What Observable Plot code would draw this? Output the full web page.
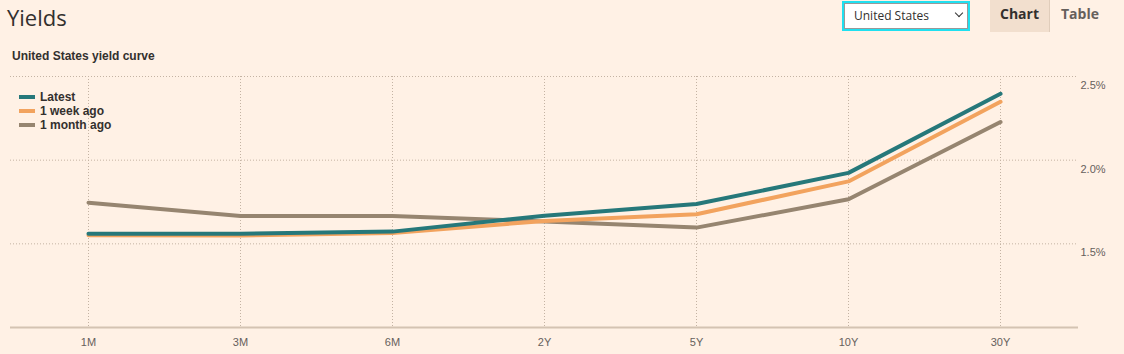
<!DOCTYPE html>
<html>
<head>
<meta charset="utf-8">
<script src="https://cdn.jsdelivr.net/npm/d3@7"></script>
<script src="https://cdn.jsdelivr.net/npm/@observablehq/plot@0.6"></script>
<style>
  html, body { margin: 0; padding: 0; background: #fff1e5; width: 1124px; height: 354px; overflow: hidden; }
  body { position: relative; font-family: "Liberation Sans", Arial, sans-serif; color: #33302e; }
  #title { position: absolute; left: 7px; top: 2px; font-family: "Open Sans", sans-serif; font-size: 22px; font-weight: 400; color: #33302e; }
  #subtitle { position: absolute; left: 12px; top: 49px; font-size: 12px; font-weight: bold; color: #33302e; }
  #select { position: absolute; left: 842px; top: 1px; width: 124px; height: 26px; border: 2px solid #1fe0f0; box-sizing: content-box; }
  #select .inner { position: absolute; left: 0; top: 0; right: 0; bottom: 0; border: 1px solid #999; background: #fff; font-family: "Open Sans", sans-serif; font-size: 12px; color: #33302e; line-height: 24px; padding-left: 9px; }
  #select .chev { position: absolute; right: 6px; top: 7px; width: 5px; height: 5px; border-right: 1.5px solid #333; border-bottom: 1.5px solid #333; transform: rotate(45deg); }
  #tab-chart { position: absolute; left: 990px; top: 0; width: 59px; height: 32px; background: #f2dfce; border-right: 1px solid #e0cdbb; font-size: 14px; font-weight: bold; color: #33302e; line-height: 28px; text-align: center; font-family: "Open Sans", sans-serif; }
  #tab-table { position: absolute; left: 1061px; top: 0; height: 32px; font-size: 14px; font-weight: bold; color: #66605c; line-height: 28px; font-family: "Open Sans", sans-serif; }
  #chart { position: absolute; left: 0; top: 66px; }
  #legend { position: absolute; left: 19px; top: 90px; font-size: 12px; font-weight: bold; color: #33302e; }
  #legend .row { height: 14px; line-height: 14px; display: flex; align-items: center; }
  #legend .sw { width: 16px; height: 4px; margin-right: 5px; }
</style>
</head>
<body>
<div id="title">Yields</div>
<div id="subtitle">United States yield curve</div>
<div id="select"><div class="inner">United States</div><div class="chev"></div></div>
<div id="tab-chart">Chart</div>
<div id="tab-table">Table</div>
<div id="chart"></div>
<div id="legend"></div>
<script>
const tenors = ["1M", "3M", "6M", "2Y", "5Y", "10Y", "30Y"];
const seriesNames = ["Latest", "1 week ago", "1 month ago"];
const seriesColors = ["#26787a", "#f2a35e", "#968570"];
const latest   = [1.561, 1.560, 1.573, 1.668, 1.738, 1.924, 2.397];
const weekAgo  = [1.551, 1.550, 1.564, 1.637, 1.677, 1.873, 2.349];
const monthAgo = [1.746, 1.667, 1.667, 1.634, 1.597, 1.766, 2.228];
const yTicks = [1.5, 2.0, 2.5];

// draw order: 1 month ago at the bottom, latest on top
const drawOrder = [["1 month ago", monthAgo], ["1 week ago", weekAgo], ["Latest", latest]];
const rows = [];
for (const [name, vals] of drawOrder) {
  tenors.forEach((t, i) => rows.push({ tenor: t, value: vals[i], series: name }));
}

const gridColor = "#c4b3a3";
const chart = Plot.plot({
  width: 1124,
  height: 288,
  marginLeft: 10,
  marginRight: 46,
  marginTop: 10,
  marginBottom: 27,
  style: { background: "transparent", fontFamily: "'Liberation Sans', Arial, sans-serif", fontSize: "11px", overflow: "visible" },
  x: { type: "point", domain: tenors, padding: 0.5, label: null },
  y: { domain: [1, 2.5], label: null },
  color: { domain: seriesNames, range: seriesColors },
  marks: [
    Plot.gridY(yTicks, { stroke: gridColor, strokeOpacity: 1, strokeDasharray: "1,2" }),
    Plot.gridX(tenors, { stroke: gridColor, strokeOpacity: 1, strokeDasharray: "1,2" }),
    Plot.ruleY([1], { stroke: "#d4c3b2", strokeWidth: 2 }),
    Plot.axisX({ tickSize: 0, tickPadding: 11, fill: "#66605c", fontSize: 11 }),
    Plot.axisY(yTicks, { anchor: "right", tickSize: 0, tickPadding: 2, dy: 9, tickFormat: d => d.toFixed(1) + "%", fill: "#66605c", fontSize: 11 }),
    Plot.line(rows, { x: "tenor", y: "value", z: "series", stroke: "series", strokeWidth: 4 })
  ]
});
document.getElementById("chart").appendChild(chart);

const legend = document.getElementById("legend");
seriesNames.forEach((n, i) => {
  const row = document.createElement("div");
  row.className = "row";
  const sw = document.createElement("span");
  sw.className = "sw";
  sw.style.background = seriesColors[i];
  const lab = document.createElement("span");
  lab.textContent = n;
  row.appendChild(sw);
  row.appendChild(lab);
  legend.appendChild(row);
});
</script>
</body>
</html>
